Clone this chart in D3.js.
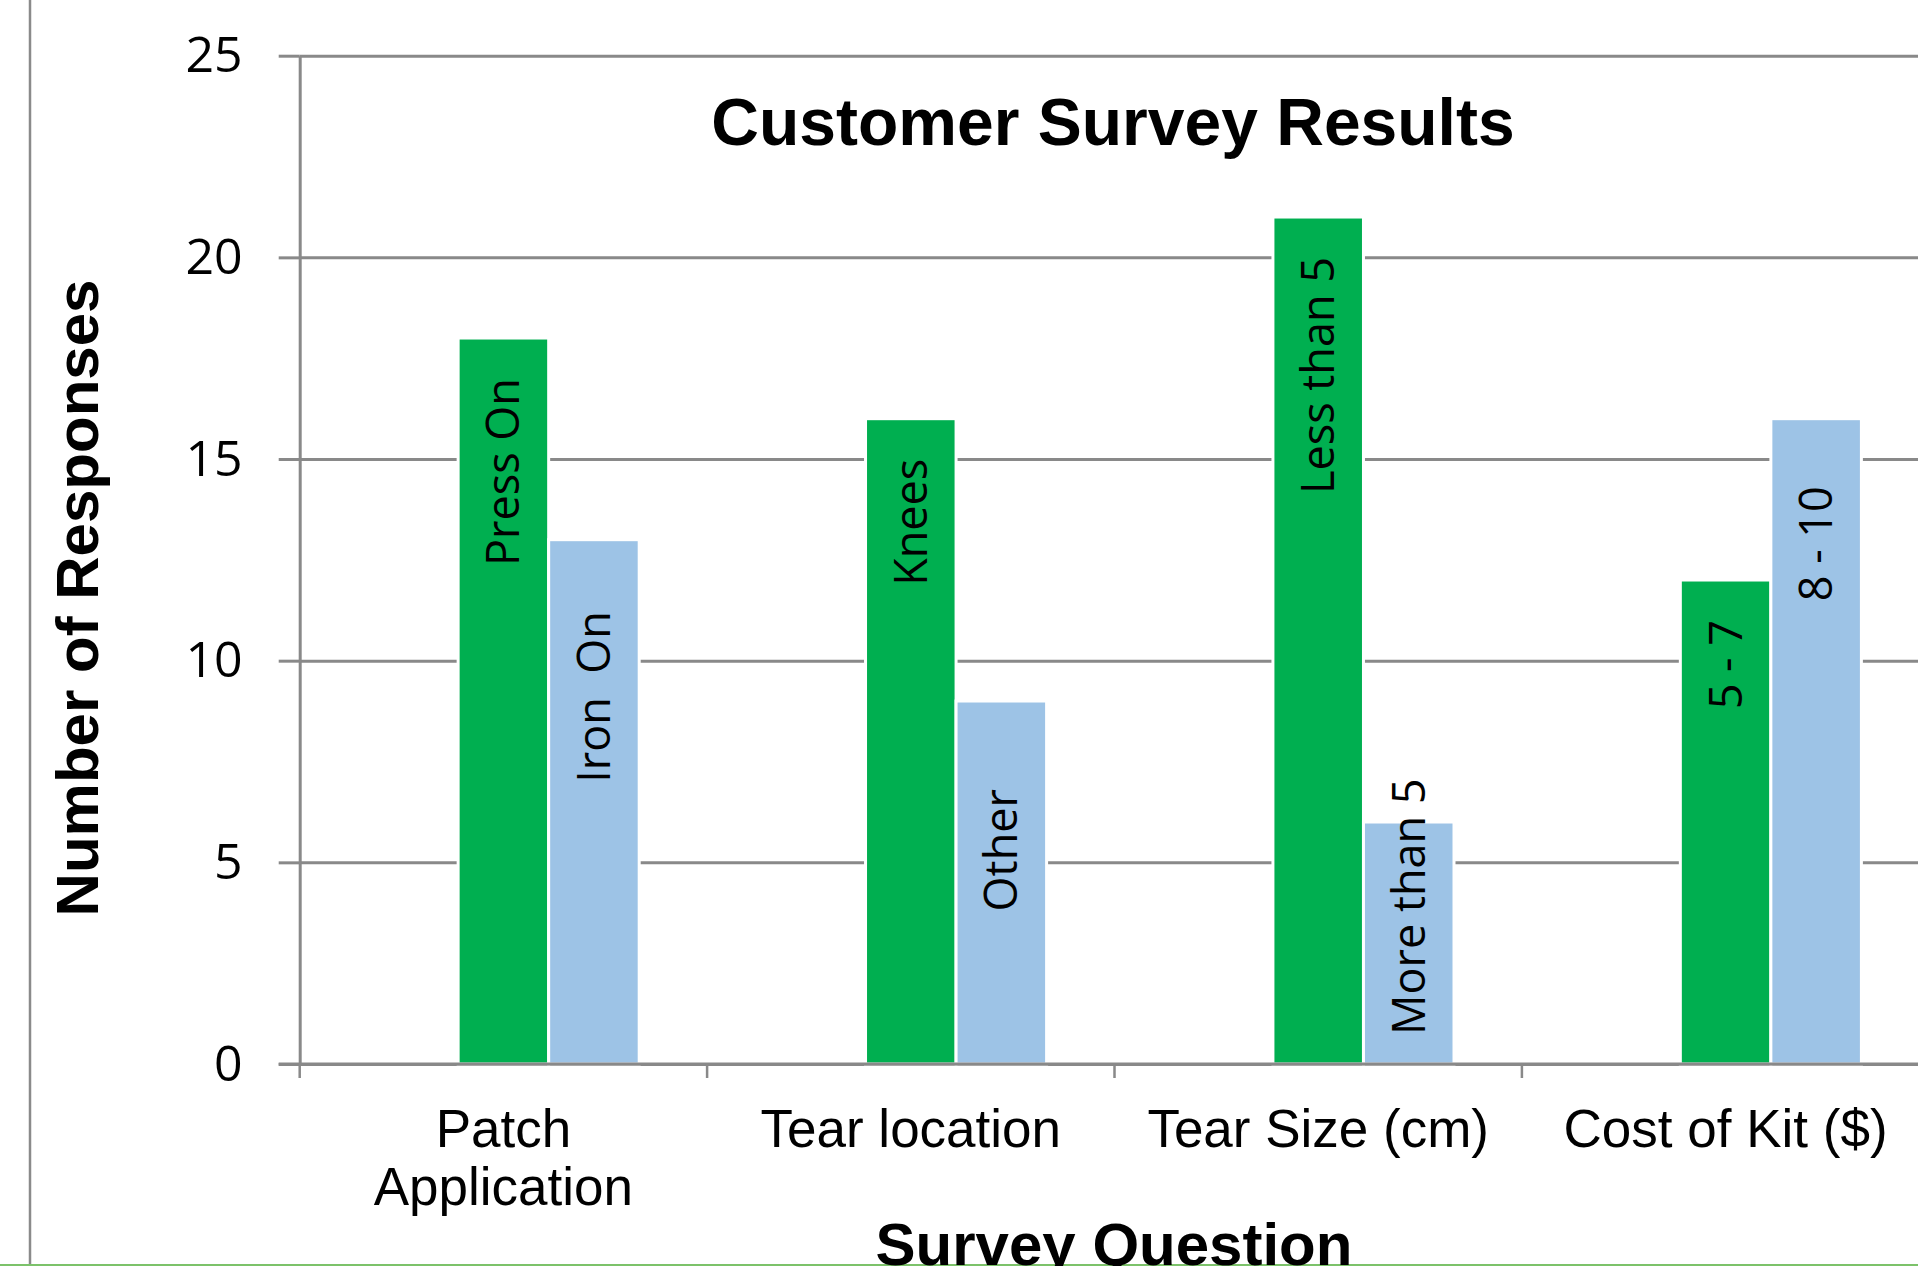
<!DOCTYPE html>
<html>
<head>
<meta charset="utf-8">
<script src="https://cdn.jsdelivr.net/npm/d3@7"></script>
<style>
	body{margin:0;background:#fff;overflow:hidden;}
	text{fill:#000;}
</style>
</head>
<body>
<script>
// chart values
const categories = ["Patch Application","Tear location","Tear Size (cm)","Cost of Kit ($)"];
const categoryLines = [["Patch","Application"],["Tear location"],["Tear Size (cm)"],["Cost of Kit ($)"]];
const firstAnswers = ["Press On","Knees","Less than 5","5 - 7"];
const firstValues = [18,16,21,12];
const secondAnswers = ["Iron  On","Other","More than 5","8 - 10"];
const secondValues = [13,9,6,16];
const yTicks = [0,5,10,15,20,25];
// the source chart has an empty first series, so each group has 3 slots
const seriesSlots = ["blank","first","second"];

window.onload=function(){
	var width=1918,height=1266;
	var left=299.7,top=55.7,bottom=1064,band=407.4;

	const svg = d3.select("body")
								.append("svg")
									.attr("width",width)
									.attr("height",height);

	var x0 = d3.scaleBand()
						 .domain(categories)
						 .range([left,left+band*categories.length]);

	var x1 = d3.scaleBand()
						 .domain(seriesSlots)
						 .range([0,x0.bandwidth()])
						 .paddingOuter(0.75);

	var y = d3.scaleLinear()
						.domain([0,25])
						.range([bottom,top]);

	// frame lines from the original screenshot
	svg.append("line")
			.attr("x1",30).attr("x2",30).attr("y1",0).attr("y2",height)
			.style("stroke","#8a8a8a").style("stroke-width",2.5);
	svg.append("line")
			.attr("x1",0).attr("x2",width).attr("y1",1265).attr("y2",1265)
			.style("stroke","#7cc26a").style("stroke-width",2);

	// gridlines
	svg.append("g")
			.attr("transform","translate("+left+",0)")
			.call(d3.axisLeft(y).tickValues(yTicks).tickSize(-(width-left)).tickFormat(""))
			.call(g=>g.select(".domain").remove())
			.selectAll("line")
				.style("stroke","#898989").style("stroke-width",3);

	// y axis with outside ticks
	const yAxis = svg.append("g")
			.attr("transform","translate("+left+",0)")
			.call(d3.axisLeft(y).tickValues(yTicks).tickSize(21).tickSizeOuter(0).tickPadding(36));
	yAxis.select(".domain").style("stroke","#898989").style("stroke-width",3);
	yAxis.selectAll(".tick line").style("stroke","#898989").style("stroke-width",3);
	yAxis.selectAll(".tick text")
			.style("font-family","'Open Sans'")
			.style("font-size","50px")
			.style("fill","#000");

	// bars
	var groups = svg.selectAll(".grp")
									.data(categories)
								.enter().append("g")
									.attr("class","grp")
									.attr("transform",function(d){return "translate("+x0(d)+",0)";});

	groups.append("rect")
				.attr("x",x1("first"))
				.attr("y",function(d,i){return y(firstValues[i]);})
				.attr("width",x1.bandwidth())
				.attr("height",function(d,i){return bottom-y(firstValues[i]);})
				.style("fill","#00af50")
				.style("stroke","#fff")
				.style("stroke-width",3);

	groups.append("rect")
				.attr("x",x1("second"))
				.attr("y",function(d,i){return y(secondValues[i]);})
				.attr("width",x1.bandwidth())
				.attr("height",function(d,i){return bottom-y(secondValues[i]);})
				.style("fill","#9dc3e6")
				.style("stroke","#fff")
				.style("stroke-width",3);

	// x axis baseline and category boundary ticks
	svg.append("line")
			.attr("x1",left-21).attr("x2",width).attr("y1",bottom).attr("y2",bottom)
			.style("stroke","#898989").style("stroke-width",3);
	svg.selectAll(".xtick")
			.data(categories)
		.enter().append("line")
			.attr("class","xtick")
			.attr("x1",function(d){return x0(d);})
			.attr("x2",function(d){return x0(d);})
			.attr("y1",bottom).attr("y2",bottom+14)
			.style("stroke","#898989").style("stroke-width",2.5);

	// bar labels, rotated
	var labelFont = "'Open Sans'", labelSize = 45, capHalf = 16;
	// where the hand-placed labels of the second series sit (value units)
	const secondLabelMid = [9.1,5.3,3.9,12.9];

	groups.append("text")
				.attr("transform",function(d,i){
					var cx = x1("first")+x1.bandwidth()/2+capHalf, cy = y(firstValues[i])+40;
					return "translate("+cx+","+cy+") rotate(-90)";})
				.attr("text-anchor","end")
				.style("font-family",labelFont)
				.style("font-size",labelSize+"px")
				.style("white-space","pre")
				.text(function(d,i){return firstAnswers[i];});

	groups.append("text")
				.attr("transform",function(d,i){
					var cx = x1("second")+x1.bandwidth()/2+capHalf, cy = y(secondLabelMid[i]);
					return "translate("+cx+","+cy+") rotate(-90)";})
				.attr("text-anchor","middle")
				.style("font-family",labelFont)
				.style("font-size",labelSize+"px")
				.style("white-space","pre")
				.text(function(d,i){return secondAnswers[i];});

	// category labels
	svg.selectAll(".cat")
			.data(categories)
		.enter().append("text")
			.attr("class","cat")
			.attr("text-anchor","middle")
			.style("font-family","'Liberation Sans', Arial, sans-serif")
			.style("font-size","53px")
			.each(function(d,i){
				var t = d3.select(this);
				categoryLines[i].forEach(function(line,j){
					t.append("tspan")
						.attr("x",x0(d)+x0.bandwidth()/2)
						.attr("y",1147+j*58)
						.text(line);
				});
			});

	// titles
	svg.append("text")
			.attr("x",1113).attr("y",145)
			.attr("text-anchor","middle")
			.style("font-family","'Liberation Sans', Arial, sans-serif")
			.style("font-weight","bold")
			.style("font-size","66px")
			.text("Customer Survey Results");

	svg.append("text")
			.attr("transform","translate(98,598) rotate(-90)")
			.attr("text-anchor","middle")
			.style("font-family","'Liberation Sans', Arial, sans-serif")
			.style("font-weight","bold")
			.style("font-size","60px")
			.text("Number of Responses");

	svg.append("text")
			.attr("x",1114).attr("y",1265)
			.attr("text-anchor","middle")
			.style("font-family","'Liberation Sans', Arial, sans-serif")
			.style("font-weight","bold")
			.style("font-size","60px")
			.text("Survey Question");
}
</script>
</body>
</html>
